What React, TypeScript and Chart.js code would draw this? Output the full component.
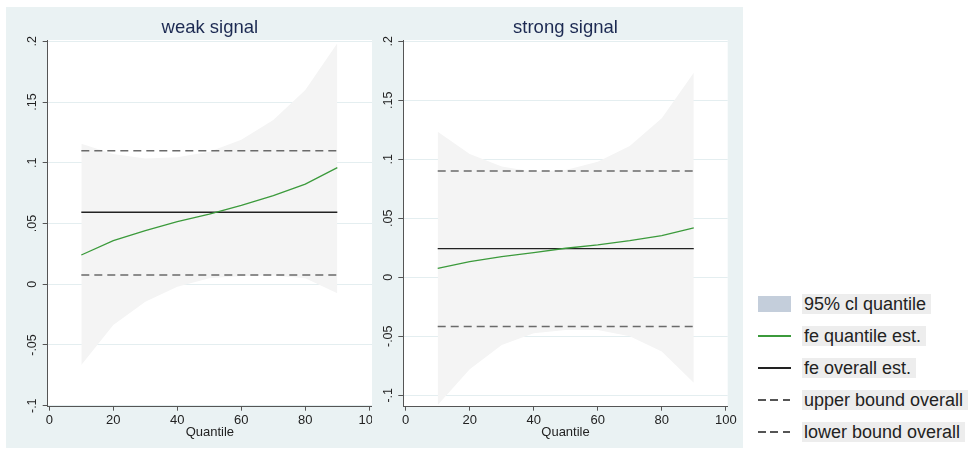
import React, { useEffect, useRef } from 'react';
import { Chart, registerables } from 'chart.js';

Chart.register(...registerables);

// ---------- data ----------
const quantiles = [10, 20, 30, 40, 50, 60, 70, 80, 90];

const weakUpper = [0.1156, 0.1073, 0.1035, 0.1046, 0.1092, 0.119, 0.1353, 0.16, 0.1985];
const weakLower = [-0.0665, -0.0335, -0.0143, -0.002, 0.005, 0.0068, 0.0072, 0.005, -0.0074];
const weakEst = [0.0241, 0.0359, 0.0442, 0.0516, 0.0577, 0.065, 0.073, 0.0824, 0.096];
const weakOverall = 0.0593;
const weakUpperOverall = 0.11;
const weakLowerOverall = 0.0077;

const strongUpper = [0.1234, 0.1045, 0.0938, 0.0895, 0.091, 0.098, 0.1113, 0.1347, 0.1734];
const strongLower = [-0.1082, -0.078, -0.0573, -0.0475, -0.0446, -0.0446, -0.05, -0.063, -0.0893];
const strongEst = [0.0076, 0.0133, 0.0175, 0.0209, 0.0246, 0.0274, 0.031, 0.0353, 0.0418];
const strongOverall = 0.0243;
const strongUpperOverall = 0.0901;
const strongLowerOverall = -0.0418;

const overallSpan = [10, 90];
const xTicks = [0, 20, 40, 60, 80, 100];
const xTickLabels = ['0', '20', '40', '60', '80', '100'];
const yTicks = [-0.1, -0.05, 0, 0.05, 0.1, 0.15, 0.2];
const yTickLabels = ['-.1', '-.05', '0', '.05', '.1', '.15', '.2'];

const legendLabels = [
  '95% cl quantile',
  'fe quantile est.',
  'fe overall est.',
  'upper bound overall',
  'lower bound overall',
];

// ---------- styles ----------
const FONT = '"Liberation Sans", Arial, Helvetica, sans-serif';
const BG = '#eaf2f3';
const BAND = '#f4f4f4';
const GREEN = '#3b9a3b';
const BLACK = '#222222';
const DASH = '#6a6a6a';

type PanelProps = {
  title: string;
  upper: number[];
  lower: number[];
  est: number[];
  overall: number;
  ub: number;
  lb: number;
  left: number;
  width: number;
  yAxisWidth: number;
  padRight: number;
  xMin: number;
  xMax: number;
  yMin: number;
  yMax: number;
};

function Panel(p: PanelProps) {
  const ref = useRef<HTMLCanvasElement | null>(null);
  useEffect(() => {
    if (!ref.current) return;
    const toPts = (ys: number[]) => quantiles.map((q, i) => ({ x: q, y: ys[i] }));
    const flat = (v: number) => overallSpan.map((q) => ({ x: q, y: v }));

    const decor = {
      id: 'decor',
      beforeDraw(chart: any) {
        const { ctx, chartArea: a } = chart;
        ctx.save();
        ctx.fillStyle = '#ffffff';
        ctx.fillRect(a.left, a.top, a.right - a.left, a.bottom - a.top);
        ctx.restore();
      },
      afterDraw(chart: any) {
        const { ctx, chartArea: a, scales } = chart;
        const cx = (a.left + a.right) / 2;
        ctx.save();
        ctx.fillStyle = '#1c2a52';
        ctx.font = `18.5px ${FONT}`;
        ctx.textAlign = 'center';
        ctx.textBaseline = 'alphabetic';
        ctx.fillText(p.title, cx, 26.3);

        ctx.fillStyle = '#222222';
        ctx.font = `13px ${FONT}`;
        xTicks.forEach((v, i) => {
          ctx.fillText(xTickLabels[i], scales.x.getPixelForValue(v), a.bottom + 17.5);
        });
        ctx.fillText('Quantile', cx, a.bottom + 29.5);

        ctx.font = `12.5px ${FONT}`;
        yTicks.forEach((v, i) => {
          const y = scales.y.getPixelForValue(v);
          ctx.save();
          ctx.translate(a.left - 11.5, y);
          ctx.rotate(-Math.PI / 2);
          ctx.textAlign = 'center';
          ctx.textBaseline = 'alphabetic';
          ctx.fillText(yTickLabels[i], 0, 0);
          ctx.restore();
        });
        ctx.restore();
      },
    };

    const chart = new Chart(ref.current, {
      type: 'line',
      data: {
        datasets: [
          {
            data: toPts(p.upper),
            fill: '+1',
            backgroundColor: BAND,
            borderWidth: 0,
            borderColor: 'rgba(0,0,0,0)',
            pointRadius: 0,
            order: 10,
          },
          {
            data: toPts(p.lower),
            fill: false,
            borderWidth: 0,
            borderColor: 'rgba(0,0,0,0)',
            pointRadius: 0,
            order: 10,
          },
          {
            data: toPts(p.est),
            borderColor: GREEN,
            borderWidth: 1.3,
            pointRadius: 0,
            fill: false,
            order: 1,
          },
          {
            data: flat(p.overall),
            borderColor: BLACK,
            borderWidth: 1.3,
            pointRadius: 0,
            fill: false,
            order: 1,
          },
          {
            data: flat(p.ub),
            borderColor: DASH,
            borderWidth: 1.5,
            borderDash: [8, 5],
            pointRadius: 0,
            fill: false,
            order: 1,
          },
          {
            data: flat(p.lb),
            borderColor: DASH,
            borderWidth: 1.5,
            borderDash: [8, 5],
            pointRadius: 0,
            fill: false,
            order: 1,
          },
        ],
      },
      options: {
        animation: false,
        responsive: false,
        maintainAspectRatio: false,
        devicePixelRatio: 1,
        layout: { padding: { top: 33, right: p.padRight, bottom: 0, left: 0 } },
        plugins: {
          legend: { display: false },
          tooltip: { enabled: false },
          title: { display: false },
          filler: { drawTime: 'beforeDatasetsDraw' },
        } as any,
        elements: { line: { tension: 0 }, point: { radius: 0 } },
        scales: {
          x: {
            type: 'linear',
            min: p.xMin,
            max: p.xMax,
            afterBuildTicks: (s: any) => {
              s.ticks = xTicks.map((v) => ({ value: v }));
            },
            afterFit: (s: any) => {
              s.height = 41.3;
            },
            ticks: { display: false },
            grid: {
              display: true,
              drawOnChartArea: false,
              drawTicks: true,
              tickLength: 4,
              tickColor: '#555555',
              tickWidth: 1,
            },
            border: { display: true, color: '#555555', width: 1 },
          },
          y: {
            type: 'linear',
            min: p.yMin,
            max: p.yMax,
            afterBuildTicks: (s: any) => {
              s.ticks = yTicks.map((v) => ({ value: v }));
            },
            afterFit: (s: any) => {
              s.width = p.yAxisWidth;
            },
            ticks: { display: false },
            grid: {
              display: true,
              color: '#e4eef0',
              lineWidth: 1,
              drawTicks: true,
              tickLength: 5,
              tickColor: '#555555',
              tickWidth: 1,
            },
            border: { display: true, color: '#555555', width: 1 },
          },
        },
      },
      plugins: [decor],
    } as any);
    return () => chart.destroy();
  }, []);

  return (
    <canvas
      ref={ref}
      width={p.width}
      height={441}
      style={{ position: 'absolute', left: p.left, top: 7, width: p.width, height: 441 }}
    />
  );
}

function LegendRow({ label, y, kind }: { label: string; y: number; kind: number }) {
  let sample: React.ReactNode = null;
  if (kind === 0) {
    sample = (
      <div style={{ position: 'absolute', left: 758, top: y - 8, width: 33, height: 16, background: '#c4cedb' }} />
    );
  } else if (kind === 1 || kind === 2) {
    sample = (
      <div
        style={{
          position: 'absolute',
          left: 758,
          top: y - 1,
          width: 33,
          height: 2,
          background: kind === 1 ? GREEN : BLACK,
        }}
      />
    );
  } else {
    sample = (
      <>
        {[0, 1, 2].map((i) => (
          <div
            key={i}
            style={{
              position: 'absolute',
              left: 758 + i * 12.3,
              top: y - 1,
              width: 7.5,
              height: 1.6,
              background: '#555555',
            }}
          />
        ))}
      </>
    );
  }
  return (
    <>
      {sample}
      <div
        style={{
          position: 'absolute',
          left: 802,
          top: y - 10,
          height: 20,
          lineHeight: '20px',
          padding: '0 5px 0 2px',
          background: '#ededed',
          color: '#222222',
          fontFamily: FONT,
          fontSize: 18,
          whiteSpace: 'nowrap',
        }}
      >
        {label}
      </div>
    </>
  );
}

export default function App() {
  const rowY = [304, 336, 368, 400, 432];
  return (
    <div style={{ position: 'absolute', left: 0, top: 0, width: 977, height: 450, background: '#ffffff', overflow: 'hidden' }}>
      <div style={{ position: 'absolute', left: 6, top: 7, width: 737, height: 441, background: BG }} />
      <Panel
        title="weak signal"
        upper={weakUpper}
        lower={weakLower}
        est={weakEst}
        overall={weakOverall}
        ub={weakUpperOverall}
        lb={weakLowerOverall}
        left={6}
        width={366}
        yAxisWidth={41.7}
        padRight={0}
        xMin={-0.5}
        xMax={100.84}
        yMin={-0.1008}
        yMax={0.2011}
      />
      <Panel
        title="strong signal"
        upper={strongUpper}
        lower={strongLower}
        est={strongEst}
        overall={strongOverall}
        ub={strongUpperOverall}
        lb={strongLowerOverall}
        left={372}
        width={371}
        yAxisWidth={31.3}
        padRight={15.3}
        xMin={-0.75}
        xMax={100.6}
        yMin={-0.1097}
        yMax={0.2011}
      />
      {legendLabels.map((l, i) => (
        <LegendRow key={l} label={l} y={rowY[i]} kind={i} />
      ))}
    </div>
  );
}
